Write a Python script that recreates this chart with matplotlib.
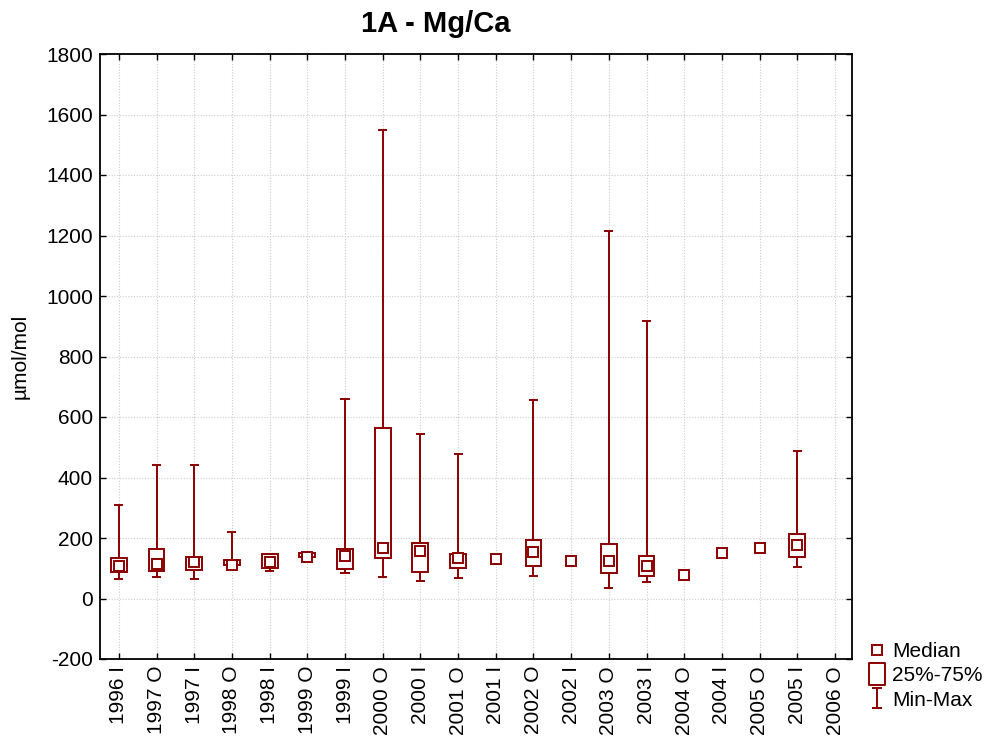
import numpy as np
import matplotlib
matplotlib.use("Agg")
import matplotlib.pyplot as plt
from matplotlib.patches import Rectangle
from matplotlib.path import Path
from matplotlib.lines import Line2D

plt.rcParams['font.family'] = ['Liberation Sans', 'DejaVu Sans']
plt.rcParams['axes.unicode_minus'] = False

categories = ["1996 I", "1997 O", "1997 I", "1998 O", "1998 I", "1999 O", "1999 I",
              "2000 O", "2000 I", "2001 O", "2001 I", "2002 O", "2002 I", "2003 O",
              "2003 I", "2004 O", "2004 I", "2005 O", "2005 I", "2006 O"]
nan = np.nan
mins    = [64, 70, 63, 107, 92, 133, 85, 72, 58, 68, 130, 75, 124, 36, 56, 78, 150, 168, 105, nan]
q1      = [89, 90, 93, 110, 100, 136, 97, 133, 89, 100, 130, 108, 124, 84, 73, 78, 150, 168, 138, nan]
medians = [107, 115, 122, 111, 122, 137, 139, 167, 157, 134, 130, 153, 124, 123, 108, 78, 150, 168, 177, nan]
q3      = [133, 163, 138, 127, 146, 149, 164, 564, 185, 147, 130, 194, 124, 179, 140, 78, 150, 168, 213, nan]
maxs    = [309, 442, 442, 221, 146, 150, 660, 1550, 545, 479, 130, 656, 124, 1215, 917, 78, 150, 168, 489, nan]

color = '#8b0000'
lw = 1.4
fs = 15

fig = plt.figure(figsize=(9.9, 7.42), dpi=100)
ax = fig.add_axes([100/990, 83/742, 752/990, 605/742])

x = np.arange(len(categories))
box_w = 0.42
cap_w = 0.24
for i in x:
    if np.isnan(medians[i]):
        continue
    if maxs[i] > mins[i]:
        ax.vlines(i, mins[i], maxs[i], color=color, lw=lw, zorder=2)
        ax.hlines([mins[i], maxs[i]], i - cap_w/2, i + cap_w/2, color=color, lw=lw, zorder=2)
    if q3[i] > q1[i]:
        ax.add_patch(Rectangle((i - box_w/2, q1[i]), box_w, q3[i] - q1[i],
                               facecolor='white', edgecolor=color, lw=lw, zorder=3))
    ax.plot(i, medians[i], marker='s', ms=7.5, mfc='white', mec=color, mew=lw, zorder=4)

ax.set_xlim(-0.5, 19.45)
ax.set_ylim(-200, 1800)
ax.set_yticks(np.arange(-200, 1801, 200))
ax.set_xticks(x)
ax.set_xticklabels(categories, rotation=90, fontsize=fs)
ax.tick_params(axis='y', labelsize=fs)
ax.tick_params(direction='in', length=4, width=1, top=True, right=True,
               labeltop=False, labelright=False, pad=5)
ax.grid(True, linestyle=(0, (1, 1.5)), color='#cccccc', lw=0.8)
ax.set_axisbelow(True)
for s in ax.spines.values():
    s.set_linewidth(1.3)

ax.set_ylabel("µmol/mol", fontsize=fs, labelpad=12)
ax.set_title("1A - Mg/Ca", fontsize=21, fontweight='bold', pad=16, x=(436 - 100) / 752)

# legend
ibeam = Path([(-0.5, -1), (0.5, -1), (0, -1), (0, 1), (-0.5, 1), (0.5, 1)],
             [Path.MOVETO, Path.LINETO, Path.MOVETO, Path.LINETO, Path.MOVETO, Path.LINETO])
rect = Path([(-0.7, -1), (0.7, -1), (0.7, 1), (-0.7, 1), (-0.7, -1)],
            [Path.MOVETO, Path.LINETO, Path.LINETO, Path.LINETO, Path.CLOSEPOLY])
handles = [
    Line2D([], [], ls='none', marker='s', ms=6.5, mfc='white', mec=color, mew=lw),
    Line2D([], [], ls='none', marker=rect, ms=15.5, mfc='white', mec=color, mew=lw),
    Line2D([], [], ls='none', marker=ibeam, ms=14, mfc='none', mec=color, mew=lw),
]
fig.legend(handles, ["Median", "25%-75%", "Min-Max"], loc='upper left',
           bbox_to_anchor=(866/990, 1 - 640/742), frameon=False, fontsize=fs,
           handlelength=0.9, handletextpad=0.25, labelspacing=0.25, borderpad=0.1,
           borderaxespad=0)

fig.savefig("out.png", dpi=100)
